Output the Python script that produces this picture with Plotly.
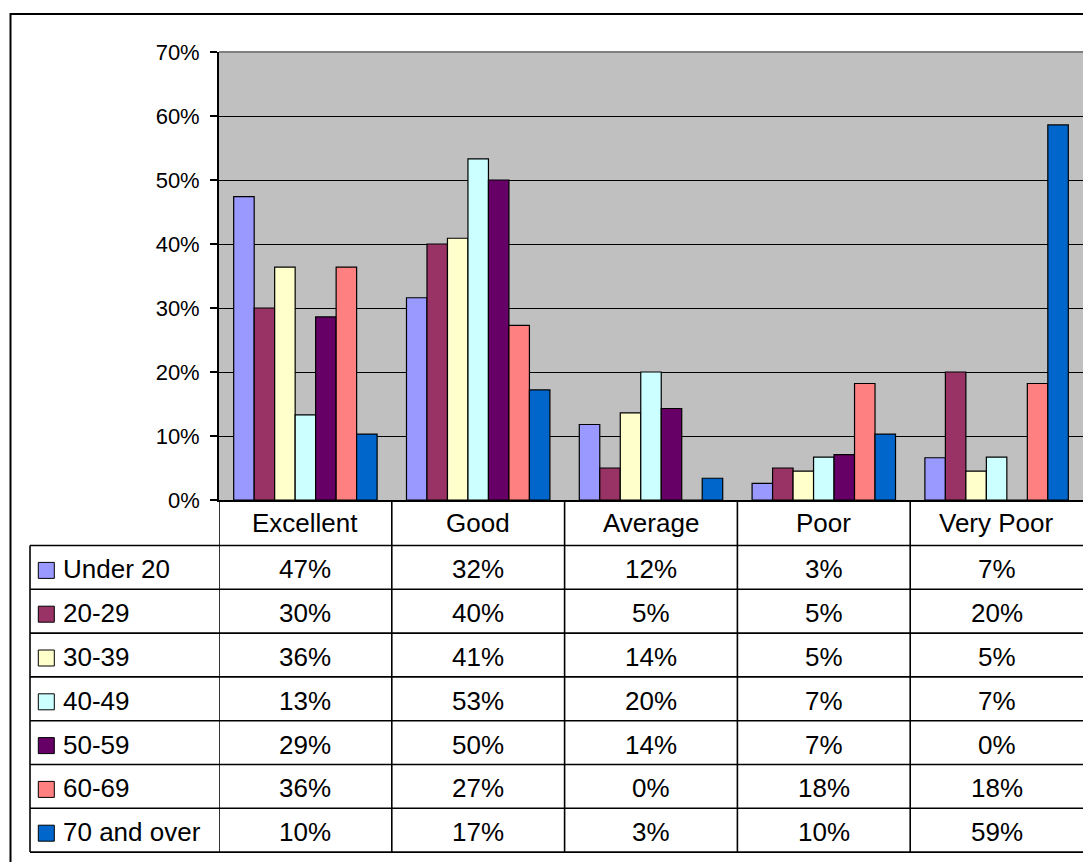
import math
import plotly.graph_objects as go

# Survey ratings by age group (percent of respondents)
categories = ["Excellent", "Good", "Average", "Poor", "Very Poor"]
age_groups = ["Under 20", "20-29", "30-39", "40-49", "50-59", "60-69", "70 and over"]

under_20 = [47.4, 31.6, 11.8, 2.6, 6.6]
age_20_29 = [30.0, 40.0, 5.0, 5.0, 20.0]
age_30_39 = [36.4, 40.9, 13.6, 4.5, 4.5]
age_40_49 = [13.3, 53.3, 20.0, 6.7, 6.7]
age_50_59 = [28.6, 50.0, 14.3, 7.1, 0.0]
age_60_69 = [36.4, 27.3, 0.0, 18.2, 18.2]
age_70_over = [10.3, 17.2, 3.4, 10.3, 58.6]

series_values = [under_20, age_20_29, age_30_39, age_40_49, age_50_59, age_60_69, age_70_over]
series_colors = ["#9999FF", "#993366", "#FFFFCC", "#CCFFFF", "#660066", "#FF8080", "#0066CC"]

y_ticks = [0, 10, 20, 30, 40, 50, 60, 70]

# Page geometry (pixels)
W, H = 1083, 862
PLOT_L, PLOT_T, PLOT_B = 219, 52, 500
TABLE_L = 30
HEADER_B = 545.5
ROW_H = 43.8
FONT = "Liberation Sans, Arial, sans-serif"


def px_x(x):
    return (x - PLOT_L) / (W - PLOT_L)


def px_y(y):
    return (PLOT_B - y) / (PLOT_B - PLOT_T)


def pct(v):
    return f"{math.floor(v + 0.5)}%"


fig = go.Figure()
for name, vals, col in zip(age_groups, series_values, series_colors):
    fig.add_trace(go.Bar(
        name=name, x=categories, y=vals,
        marker=dict(color=col, line=dict(color="black", width=1.2)),
        showlegend=False,
    ))

shapes = []
annotations = []
line_style = dict(color="black", width=1.6)
n_rows = len(age_groups)
table_bottom = HEADER_B + n_rows * ROW_H
text_font = dict(family=FONT, size=26, color="black")

# outer chart border (left and top edges visible)
shapes.append(dict(type="rect", xref="paper", yref="paper",
                   x0=px_x(10.5), y0=px_y(14), x1=px_x(1100), y1=px_y(900),
                   line=dict(color="black", width=2), fillcolor="rgba(0,0,0,0)"))

# plot-area top border
shapes.append(dict(type="line", xref="paper", yref="paper",
                   x0=0, x1=1, y0=1, y1=1, line=dict(color="#808080", width=2)))

# data table horizontal rules
for i in range(n_rows + 1):
    yy = HEADER_B + i * ROW_H
    shapes.append(dict(type="line", xref="paper", yref="paper",
                       x0=px_x(TABLE_L), x1=px_x(1100), y0=px_y(yy), y1=px_y(yy),
                       line=line_style))

# data table vertical rules
shapes.append(dict(type="line", xref="paper", yref="paper",
                   x0=px_x(TABLE_L), x1=px_x(TABLE_L), y0=px_y(HEADER_B), y1=px_y(table_bottom),
                   line=line_style))
for k in range(len(categories)):
    shapes.append(dict(type="line", xref="x", yref="paper",
                       x0=k - 0.5, x1=k - 0.5, y0=px_y(PLOT_B), y1=px_y(table_bottom),
                       line=line_style))

# column headers
for cat in categories:
    annotations.append(dict(xref="x", yref="paper", x=cat, y=px_y(523),
                            xanchor="center", yanchor="middle",
                            text=cat, showarrow=False, font=text_font))

# rows: legend key, label, values
for i, (name, vals, col) in enumerate(zip(age_groups, series_values, series_colors)):
    cy = HEADER_B + (i + 0.5) * ROW_H
    shapes.append(dict(type="rect", xref="paper", yref="paper",
                       x0=px_x(38.3), x1=px_x(54.3),
                       y0=px_y(cy + 3 - 8), y1=px_y(cy + 3 + 8),
                       fillcolor=col, line=dict(color="black", width=1)))
    annotations.append(dict(xref="paper", yref="paper", x=px_x(61), y=px_y(cy + 2),
                            xanchor="left", yanchor="middle",
                            text=name, showarrow=False, font=text_font))
    for cat, v in zip(categories, vals):
        annotations.append(dict(xref="x", yref="paper", x=cat, y=px_y(cy + 2),
                                xanchor="center", yanchor="middle",
                                text=pct(v), showarrow=False, font=text_font))

fig.update_layout(
    width=W, height=H, autosize=False,
    margin=dict(l=PLOT_L, r=W - 1083, t=PLOT_T, b=H - PLOT_B, pad=0),
    paper_bgcolor="white", plot_bgcolor="#C0C0C0",
    barmode="group", bargap=0.17, bargroupgap=0,
    shapes=shapes, annotations=annotations,
    font=dict(family=FONT, color="black"),
)
fig.update_xaxes(range=[-0.5, len(categories) - 0.5], showticklabels=False,
                 showline=True, linecolor="black", linewidth=2, showgrid=False,
                 ticks="", zeroline=False)
fig.update_yaxes(range=[0, 70], tickvals=y_ticks, ticktext=[f"{t}%" for t in y_ticks],
                 ticks="outside", ticklen=7, tickcolor="black", tickwidth=1.5,
                 showline=True, linecolor="black", linewidth=1.8,
                 showgrid=True, gridcolor="black", gridwidth=1.3, zeroline=False,
                 tickfont=dict(family=FONT, size=22, color="black"),
                 ticklabelstandoff=6)

fig.write_html("out.html")
